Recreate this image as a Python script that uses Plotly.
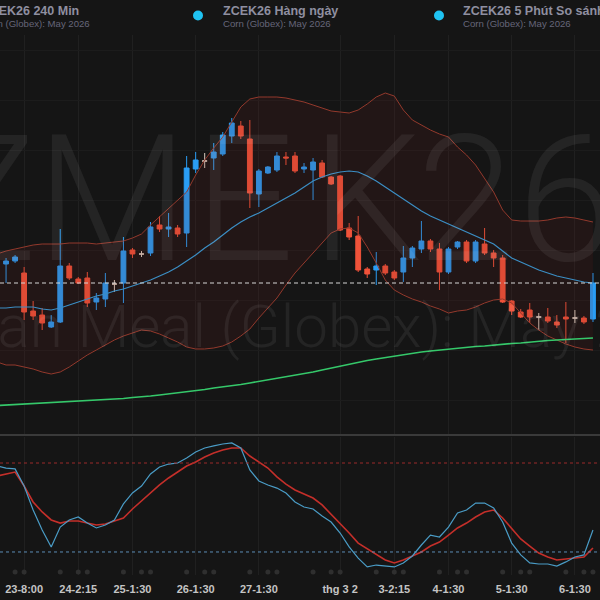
import plotly.graph_objects as go

# ---------------- data ----------------
idx = list(range(67))
open_ = [453.9, 453.6, 453.9, 452.7, 448.9, 448.5, 447.3, 447.8, 453.4, 452.1,
         452.2, 449.8, 450.1, 451.6, 451.7, 455.0, 454.6, 454.7, 457.5, 457.1,
         457.2, 456.7, 463.1, 463.9, 464.2, 464.6, 466.4, 467.4, 466.1, 460.6,
         462.7, 463.0, 464.3, 464.4, 463.1, 463.0, 463.7, 462.3, 462.4, 457.2,
         456.4, 453.1, 453.0, 453.4, 452.8, 452.8, 454.2, 455.1, 455.9, 455.1,
         452.8, 455.3, 455.8, 453.9, 455.6, 454.7, 454.2, 449.9, 448.8, 449.0,
         448.3, 448.3, 447.8, 448.3, 448.2, 448.2, 448.1]
high = [454.1, 454.2, 454.5, 453.3, 449.9, 449.2, 448.5, 457.1, 453.7, 452.3,
        452.8, 450.7, 452.7, 452.0, 456.3, 455.2, 454.9, 457.8, 458.4, 458.7,
        457.5, 464.4, 464.8, 464.7, 465.7, 466.8, 468.2, 467.9, 468.0, 463.1,
        463.4, 464.8, 464.8, 464.8, 463.7, 464.2, 464.0, 462.4, 462.5, 457.7,
        458.4, 453.3, 454.8, 453.6, 453.0, 455.4, 455.4, 457.9, 456.1, 455.7,
        455.3, 455.9, 456.0, 456.0, 457.2, 455.0, 454.5, 450.0, 449.1, 449.7,
        448.7, 449.2, 448.5, 449.8, 449.0, 448.4, 452.7]
low = [453.4, 451.7, 453.7, 448.0, 448.0, 447.0, 447.2, 447.7, 452.0, 451.6,
       449.3, 449.0, 449.3, 450.8, 449.7, 454.2, 454.3, 454.4, 456.8, 456.3,
       456.3, 455.3, 462.7, 463.2, 463.0, 464.4, 465.7, 466.1, 459.2, 459.3,
       462.6, 462.8, 463.5, 462.7, 462.7, 460.0, 462.2, 461.5, 456.9, 456.0,
       452.8, 452.2, 451.5, 452.5, 452.0, 451.8, 453.3, 454.7, 454.8, 451.0,
       452.6, 455.1, 453.7, 453.7, 454.5, 453.3, 449.7, 448.5, 448.2, 447.7,
       447.0, 447.7, 447.2, 445.7, 447.7, 447.6, 447.8]
close = [453.6, 453.9, 454.3, 448.8, 448.4, 447.7, 447.8, 453.4, 452.2, 451.7,
         449.7, 450.2, 451.7, 451.6, 454.9, 454.6, 454.6, 457.3, 457.1, 457.3,
         456.6, 463.2, 464.0, 463.9, 464.8, 466.5, 467.7, 466.4, 460.7, 462.9,
         463.3, 464.4, 464.2, 462.9, 463.3, 463.8, 462.3, 461.6, 457.0, 456.3,
         453.0, 452.6, 453.4, 452.7, 452.2, 454.2, 455.2, 455.9, 455.1, 452.8,
         455.1, 455.8, 453.9, 455.8, 454.7, 454.2, 449.8, 448.9, 448.3, 448.3,
         448.3, 447.9, 447.5, 448.1, 448.2, 447.8, 451.7]

bb_upper = [454.6, 454.9, 455.1, 455.3, 455.5, 455.6, 455.6, 455.6, 455.7, 455.7,
            455.7, 455.6, 455.7, 455.8, 455.9, 456.2, 456.6, 457.5, 458.3, 459.1,
            459.9, 460.8, 462.5, 464.0, 465.2, 466.3, 467.8, 469.3, 470.1, 470.3,
            470.3, 470.3, 470.2, 470.0, 469.8, 469.5, 469.2, 468.9, 468.8, 468.7,
            469.0, 469.6, 470.3, 470.7, 470.4, 469.0, 468.0, 467.5, 467.0, 466.6,
            466.3, 465.3, 464.5, 463.5, 462.2, 460.8, 459.0, 458.0, 457.9, 457.9,
            457.9, 458.0, 458.2, 458.3, 458.2, 458.0, 457.8]
bb_mid = [449.2, 449.2, 449.3, 449.3, 449.3, 449.1, 449.0, 449.2, 449.5, 449.8,
          450.1, 450.4, 450.6, 450.9, 451.1, 451.4, 451.7, 452.0, 452.4, 452.8,
          453.3, 453.9, 454.5, 455.2, 455.8, 456.5, 457.2, 457.8, 458.3, 458.7,
          459.2, 459.7, 460.2, 460.7, 461.3, 461.9, 462.3, 462.6, 462.8, 462.9,
          462.8, 462.4, 461.9, 461.3, 460.7, 460.1, 459.5, 458.9, 458.4, 458.0,
          457.6, 457.2, 456.8, 456.4, 456.0, 455.6, 454.9, 454.2, 453.8, 453.4,
          453.0, 452.7, 452.4, 452.2, 452.0, 451.8, 451.7]
bb_lower = [443.8, 443.5, 443.5, 443.3, 443.1, 442.8, 442.6, 442.8, 443.3, 443.9,
            444.5, 445.0, 445.5, 446.0, 446.4, 446.7, 447.0, 446.9, 446.6, 446.2,
            445.8, 445.3, 445.1, 445.1, 445.2, 445.4, 445.8, 446.4, 447.1, 448.2,
            449.2, 450.2, 451.5, 452.7, 453.7, 454.7, 455.7, 456.7, 457.1, 457.2,
            456.7, 455.3, 453.7, 452.0, 451.0, 450.5, 450.1, 449.8, 449.4, 449.1,
            448.7, 448.9, 449.0, 449.3, 449.7, 450.0, 450.1, 449.7, 448.7, 447.7,
            447.0, 446.4, 446.0, 445.6, 445.3, 445.1, 445.0]
ma_long = [439.45, 439.5, 439.55, 439.6, 439.6, 439.65, 439.7, 439.75, 439.8, 439.85,
           439.9, 439.95, 440.0, 440.1, 440.15, 440.25, 440.3, 440.4, 440.5, 440.6,
           440.7, 440.8, 440.95, 441.05, 441.2, 441.3, 441.45, 441.55, 441.7, 441.85,
           442.0, 442.15, 442.3, 442.5, 442.65, 442.8, 443.0, 443.2, 443.4, 443.6,
           443.8, 443.95, 444.1, 444.25, 444.4, 444.55, 444.7, 444.8, 444.9, 445.0,
           445.1, 445.2, 445.3, 445.35, 445.4, 445.5, 445.6, 445.65, 445.7, 445.8,
           445.9, 445.95, 446.0, 446.05, 446.1, 446.15, 446.2]

stoch_k = [78.0, 76.6, 76.0, 64.5, 48.3, 34.8, 23.4, 36.8, 41.6, 43.6,
           39.5, 36.2, 38.2, 41.6, 52.4, 59.8, 64.5, 72.6, 77.3, 79.3,
           80.0, 83.4, 87.4, 90.1, 91.5, 92.8, 93.5, 90.1, 75.3, 67.9,
           65.2, 63.1, 59.8, 53.7, 50.3, 49.0, 44.3, 40.2, 32.8, 23.4,
           15.9, 9.9, 11.2, 10.5, 9.9, 12.6, 17.3, 24.7, 31.4, 30.1,
           36.8, 46.3, 48.3, 53.0, 53.0, 49.7, 40.2, 26.0, 18.0, 12.6,
           11.9, 11.9, 10.5, 13.3, 16.6, 18.0, 34.8]
stoch_d = [71.2, 72.6, 73.9, 64.5, 53.7, 47.0, 41.6, 39.5, 40.9, 40.9,
           39.5, 38.2, 38.9, 40.9, 42.9, 49.0, 54.4, 59.8, 65.2, 69.9,
           73.9, 78.0, 80.7, 84.0, 86.7, 88.8, 90.1, 90.1, 84.7, 80.7,
           76.6, 70.6, 65.8, 61.8, 59.1, 56.4, 51.7, 45.6, 38.9, 32.8,
           26.0, 22.0, 18.0, 14.6, 12.6, 14.6, 17.3, 20.0, 24.0, 26.7,
           31.4, 36.2, 39.5, 43.6, 47.0, 48.3, 42.9, 35.5, 28.8, 24.0,
           19.3, 16.6, 14.6, 15.3, 15.9, 16.6, 22.7]
stoch_levels = [80, 20]

tick_idx = [3, 9, 15, 22, 29, 38, 44, 50, 57, 64]
tick_text = ["23-8:00", "24-2:15", "25-1:30", "26-1:30", "27-1:30",
             "thg 3 2", "3-2:15", "4-1:30", "5-1:30", "6-1:30"]
event_idx = [0, 2, 3, 7, 9, 10, 14, 16, 17, 21, 23, 24, 28, 30, 31, 35, 37, 38,
             42, 44, 45, 49, 51, 52, 56, 58, 59, 63, 65, 66]

legend_titles = ["ZCEK26 240 Min", "ZCEK26 Hàng ngày", "ZCEK26 5 Phút So sánh"]
legend_sub = "Corn (Globex): May 2026"
watermark_1 = "ZMEK26"
watermark_2 = "Soybean Meal (Globex): May 2026"

# ---------------- styling ----------------
W, H = 600, 600
BG = "#151515"
GRID = "#202020"
UP = "#2a9df4"
DN = "#f0533a"
DOJI = "#d8cabd"
BB = "#93392c"
WM = "rgba(255,255,255,0.065)"


def pyf(p):
    return 1 - p / H


def pxf(p):
    return p / W


is_doji = [o == c for o, c in zip(open_, close)]


def pick(arr, want):
    return [v if d == want else None for v, d in zip(arr, is_doji)]


fig = go.Figure()

fig.add_trace(go.Scatter(x=idx, y=bb_upper, mode="lines", line=dict(color=BB, width=1),
                         hoverinfo="skip", showlegend=False))
fig.add_trace(go.Scatter(x=idx, y=bb_lower, mode="lines", line=dict(color=BB, width=1),
                         fill="tonexty", fillcolor="rgba(110,30,25,0.14)",
                         hoverinfo="skip", showlegend=False))
fig.add_trace(go.Scatter(x=idx, y=bb_mid, mode="lines", line=dict(color="#3b8ec4", width=1.2),
                         hoverinfo="skip", showlegend=False))
fig.add_trace(go.Scatter(x=idx, y=ma_long, mode="lines", line=dict(color="#35c86a", width=1.6),
                         hoverinfo="skip", showlegend=False))

fig.add_trace(go.Candlestick(
    x=idx, open=pick(open_, False), high=pick(high, False), low=pick(low, False),
    close=pick(close, False),
    increasing=dict(line=dict(color=UP, width=1), fillcolor=UP),
    decreasing=dict(line=dict(color=DN, width=1), fillcolor=DN),
    whiskerwidth=0, showlegend=False))
fig.add_trace(go.Candlestick(
    x=idx, open=pick(open_, True), high=pick(high, True), low=pick(low, True),
    close=pick(close, True),
    increasing=dict(line=dict(color=DOJI, width=1), fillcolor=DOJI),
    decreasing=dict(line=dict(color=DOJI, width=1), fillcolor=DOJI),
    whiskerwidth=0, showlegend=False))

fig.add_trace(go.Scatter(x=idx, y=stoch_d, xaxis="x2", yaxis="y2", mode="lines",
                         line=dict(color="#c42f2a", width=1.6), showlegend=False))
fig.add_trace(go.Scatter(x=idx, y=stoch_k, xaxis="x2", yaxis="y2", mode="lines",
                         line=dict(color="#4a9cc6", width=1.2), showlegend=False))
fig.add_trace(go.Scatter(x=event_idx, y=[0.5] * len(event_idx), xaxis="x2", yaxis="y3",
                         mode="markers", marker=dict(size=5, color="#2f2f2f"),
                         showlegend=False, cliponaxis=False))

xr = [0.33, 66.78]
main_dom = [pyf(435), pyf(35)]
low_dom = [pyf(570), pyf(437)]

shapes = [
    dict(type="line", xref="paper", yref="paper", x0=0, x1=1, y0=pyf(435), y1=pyf(435),
         line=dict(color="#3a3a3a", width=2)),
    dict(type="line", xref="paper", yref="y", x0=0, x1=1, y0=close[-1], y1=close[-1],
         line=dict(color="#d5d5d5", width=1, dash="4px,3px")),
    dict(type="line", xref="paper", yref="y2", x0=0, x1=1, y0=stoch_levels[0], y1=stoch_levels[0],
         line=dict(color="#9b2b2b", width=1, dash="3px,3px")),
    dict(type="line", xref="paper", yref="y2", x0=0, x1=1, y0=stoch_levels[1], y1=stoch_levels[1],
         line=dict(color="#5b8db5", width=1, dash="3px,3px")),
]
for cx in [198, 439]:
    shapes.append(dict(type="circle", xref="paper", yref="paper",
                       x0=pxf(cx - 5), x1=pxf(cx + 5), y0=pyf(20.5), y1=pyf(10.5),
                       fillcolor="#1fc3f2", line=dict(width=0)))

annotations = []
for tx, title in zip([-20, 221, 461], legend_titles):
    annotations.append(dict(x=pxf(tx), y=pyf(11), xref="paper", yref="paper", text=title,
                            showarrow=False, xanchor="left", yanchor="middle",
                            font=dict(family="Liberation Sans, Arial", size=12.5,
                                      color="#8f8fa0", weight="bold")))
    annotations.append(dict(x=pxf(tx), y=pyf(23), xref="paper", yref="paper", text=legend_sub,
                            showarrow=False, xanchor="left", yanchor="middle",
                            font=dict(family="Liberation Sans, Arial", size=9.6,
                                      color="#66667a")))
# big watermark, one glyph per annotation to match the wide letter spacing
wm_centers = [-16, 112, 244, 366, 466, 566]
for ch, cx in zip(watermark_1, wm_centers):
    annotations.append(dict(x=pxf(cx), y=pyf(200), xref="paper", yref="paper", text=ch,
                            showarrow=False, xanchor="center", yanchor="middle",
                            font=dict(family="Roboto", size=176, color=WM, weight=300)))
annotations.append(dict(x=pxf(282), y=pyf(326), xref="paper", yref="paper", text=watermark_2,
                        showarrow=False, xanchor="center", yanchor="middle",
                        font=dict(family="Roboto", size=60, color=WM, weight=300)))

fig.update_layout(
    width=W, height=H, margin=dict(l=0, r=0, t=0, b=0),
    paper_bgcolor=BG, plot_bgcolor=BG, showlegend=False, boxgap=0.24,
    xaxis=dict(domain=[0, 1], range=xr, anchor="y", tickvals=tick_idx, showticklabels=False,
               showgrid=True, gridcolor=GRID, gridwidth=1, zeroline=False, showline=False,
               rangeslider=dict(visible=False), ticks=""),
    yaxis=dict(domain=main_dom, range=[436.5, 476.5], showticklabels=False, dtick=5,
               showgrid=True, gridcolor="#1c1c1c", zeroline=False, ticks=""),
    xaxis2=dict(domain=[0, 1], range=xr, anchor="y2", tickvals=tick_idx, ticktext=tick_text,
                showgrid=True, gridcolor=GRID, zeroline=False, showline=False,
                ticks="outside", ticklen=9, tickcolor="rgba(0,0,0,0)",
                tickfont=dict(family="Liberation Sans, Arial", size=11, color="#c4c4c4",
                              weight="bold"),
                rangeslider=dict(visible=False)),
    yaxis2=dict(domain=low_dom, range=[7.85, 97.53], showticklabels=False, showgrid=False,
                zeroline=False, ticks=""),
    yaxis3=dict(domain=[pyf(575), pyf(569)], range=[0, 1], visible=False),
    shapes=shapes, annotations=annotations,
)

fig.write_html("out.html", config=dict(displayModeBar=False),
               post_script="document.body.style.margin='0px';"
                           "document.body.style.overflow='hidden';")
